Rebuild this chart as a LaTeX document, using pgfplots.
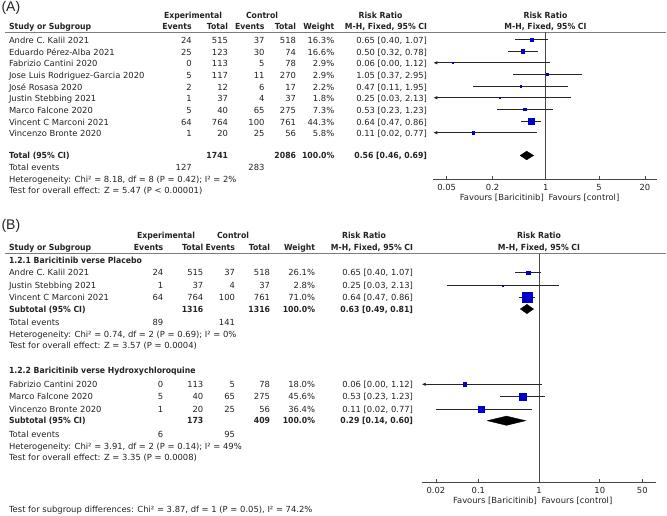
\documentclass[border=0pt]{standalone}
\usepackage{pgfplots}
\pgfplotsset{compat=1.18}
\usepackage{fontspec}
\setmainfont{DejaVu Sans}[BoldFeatures={FakeStretch=0.92}]
\newfontfamily\panelfont{Liberation Sans}
\usetikzlibrary{arrows.meta}
\definecolor{sqblue}{RGB}{0,0,200}
\definecolor{txt}{RGB}{35,35,35}
\definecolor{rulec}{RGB}{125,125,125}
\definecolor{vl}{RGB}{70,70,70}

\newcommand\fs{\fontsize{8.4bp}{10bp}\selectfont}
\newcommand\tL[3]{\node[anchor=base west] at (#1,#2) {#3};}
\newcommand\tR[3]{\node[anchor=base east] at (#1,#2) {#3};}
\newcommand\tC[3]{\node[anchor=base] at (#1,#2) {#3};}
\newcommand\rowA[8]{\tL{9}{#1}{#2}\tR{191.7}{#1}{#3}\tR{228}{#1}{#4}\tR{264.5}{#1}{#5}\tR{296}{#1}{#6}\tR{334.3}{#1}{#7}\tR{427}{#1}{#8}}
\newcommand\rowB[8]{\tL{9}{#1}{#2}\tR{163.3}{#1}{#3}\tR{203.3}{#1}{#4}\tR{235}{#1}{#5}\tR{270}{#1}{#6}\tR{315}{#1}{#7}\tR{413}{#1}{#8}}
\tikzset{cil/.style={draw=black!85, line width=0.75bp}, arr/.style={cil, -{Latex[length=4bp, width=3.5bp]}}}
% study square: risk ratio, row, half side
\newcommand\sq[3]{\addplot[only marks, mark=square*, sqblue, mark size=#3] coordinates {(#1,#2)};}

\begin{document}
\begin{tikzpicture}[every node/.style={inner sep=0pt, outer sep=0pt, text=txt}, font=\fs]
\begin{scope}[x=1bp, y=-1bp]
\useasboundingbox (0,0) rectangle (667,516);

% ---------------- Panel A ----------------
\node[anchor=base west, font=\panelfont\fontsize{14bp}{16bp}\selectfont] at (1.5,12) {(A)};
\begin{scope}[font=\fs\bfseries]
\tC{193}{18.1}{Experimental}\tC{262}{18.1}{Control}\tC{380.5}{18.1}{Risk Ratio}\tC{545.5}{18.1}{Risk Ratio}
\tL{9}{29.8}{Study or Subgroup}\tR{191.7}{29.8}{Events}\tR{228}{29.8}{Total}\tR{264.5}{29.8}{Events}\tR{296}{29.8}{Total}\tR{334.3}{29.8}{Weight}
\tR{427}{29.8}{M-H, Fixed, 95\% CI}\tC{545.5}{29.8}{M-H, Fixed, 95\% CI}
\end{scope}
\draw[rulec, line width=0.9bp] (5,32.5) -- (666,32.5);
\rowA{43.6}{Andre C. Kalil 2021}{24}{515}{37}{518}{16.3\%}{0.65 [0.40, 1.07]}
\rowA{55.25}{Eduardo Pérez-Alba 2021}{25}{123}{30}{74}{16.6\%}{0.50 [0.32, 0.78]}
\rowA{66.9}{Fabrizio Cantini 2020}{0}{113}{5}{78}{2.9\%}{0.06 [0.00, 1.12]}
\rowA{78.55}{Jose Luis Rodriguez-Garcia 2020}{5}{117}{11}{270}{2.9\%}{1.05 [0.37, 2.95]}
\rowA{90.2}{José Rosasa 2020}{2}{12}{6}{17}{2.2\%}{0.47 [0.11, 1.95]}
\rowA{101.85}{Justin Stebbing 2021}{1}{37}{4}{37}{1.8\%}{0.25 [0.03, 2.13]}
\rowA{113.5}{Marco Falcone 2020}{5}{40}{65}{275}{7.3\%}{0.53 [0.23, 1.23]}
\rowA{125.15}{Vincent C Marconi 2021}{64}{764}{100}{761}{44.3\%}{0.64 [0.47, 0.86]}
\rowA{136.8}{Vincenzo Bronte 2020}{1}{20}{25}{56}{5.8\%}{0.11 [0.02, 0.77]}
\begin{scope}[font=\fs\bfseries]
\tL{9}{158.6}{Total (95\% CI)}\tR{228}{158.6}{1741}\tR{296}{158.6}{2086}\tR{334.3}{158.6}{100.0\%}\tR{427}{158.6}{0.56 [0.46, 0.69]}
\end{scope}
\tL{9}{170.6}{Total events}\tR{191.7}{170.6}{127}\tR{264.5}{170.6}{283}
\tL{9}{182.1}{Heterogeneity: Chi² = 8.18, df = 8 (P = 0.42); I² = 2\%}
\tL{9}{193.6}{Test for overall effect: Z = 5.47 (P < 0.00001)}
\tR{543.8}{200.4}{Favours [Baricitinib]}\tL{548.5}{200.4}{Favours [control]}

% ---------------- Panel B ----------------
\node[anchor=base west, font=\panelfont\fontsize{14bp}{16bp}\selectfont] at (1.5,230) {(B)};
\begin{scope}[font=\fs\bfseries]
\tC{166}{238.1}{Experimental}\tC{233}{238.1}{Control}\tC{364}{238.1}{Risk Ratio}\tC{539}{238.1}{Risk Ratio}
\tL{9}{250.1}{Study or Subgroup}\tR{163.3}{250.1}{Events}\tR{203.3}{250.1}{Total}\tR{235}{250.1}{Events}\tR{270}{250.1}{Total}\tR{315}{250.1}{Weight}
\tR{413}{250.1}{M-H, Fixed, 95\% CI}\tC{539}{250.1}{M-H, Fixed, 95\% CI}
\tL{9}{263.1}{1.2.1 Baricitinib verse Placebo}
\end{scope}
\draw[rulec, line width=0.9bp] (5,253.5) -- (666,253.5);
\rowB{275.8}{Andre C. Kalil 2021}{24}{515}{37}{518}{26.1\%}{0.65 [0.40, 1.07]}
\rowB{288.6}{Justin Stebbing 2021}{1}{37}{4}{37}{2.8\%}{0.25 [0.03, 2.13]}
\rowB{300.6}{Vincent C Marconi 2021}{64}{764}{100}{761}{71.0\%}{0.64 [0.47, 0.86]}
\begin{scope}[font=\fs\bfseries]
\tL{9}{312.1}{Subtotal (95\% CI)}\tR{203.3}{312.1}{1316}\tR{270}{312.1}{1316}\tR{315}{312.1}{100.0\%}\tR{413}{312.1}{0.63 [0.49, 0.81]}
\end{scope}
\tL{9}{325.1}{Total events}\tR{163.3}{325.1}{89}\tR{235}{325.1}{141}
\tL{9}{337.1}{Heterogeneity: Chi² = 0.74, df = 2 (P = 0.69); I² = 0\%}
\tL{9}{348.8}{Test for overall effect: Z = 3.57 (P = 0.0004)}
\begin{scope}[font=\fs\bfseries]
\tL{9}{373.6}{1.2.2 Baricitinib verse Hydroxychloroquine}
\end{scope}
\rowB{387.4}{Fabrizio Cantini 2020}{0}{113}{5}{78}{18.0\%}{0.06 [0.00, 1.12]}
\rowB{399.8}{Marco Falcone 2020}{5}{40}{65}{275}{45.6\%}{0.53 [0.23, 1.23]}
\rowB{412.4}{Vincenzo Bronte 2020}{1}{20}{25}{56}{36.4\%}{0.11 [0.02, 0.77]}
\begin{scope}[font=\fs\bfseries]
\tL{9}{423.8}{Subtotal (95\% CI)}\tR{203.3}{423.8}{173}\tR{270}{423.8}{409}\tR{315}{423.8}{100.0\%}\tR{413}{423.8}{0.29 [0.14, 0.60]}
\end{scope}
\tL{9}{437.6}{Total events}\tR{163.3}{437.6}{6}\tR{235}{437.6}{95}
\tL{9}{449.1}{Heterogeneity: Chi² = 3.91, df = 2 (P = 0.14); I² = 49\%}
\tL{9}{460.6}{Test for overall effect: Z = 3.35 (P = 0.0008)}
\tL{9}{512.1}{Test for subgroup differences: Chi² = 3.87, df = 1 (P = 0.05), I² = 74.2\%}
\tR{537}{503.1}{Favours [Baricitinib]}\tL{541.5}{503.1}{Favours [control]}
\end{scope}

\begin{axis}[at={(433.3bp,-179.3bp)}, anchor=south west, scale only axis, width=223.4bp, height=146.8bp,
  xmode=log, xmin=0.0334, xmax=28.5, ymin=-179.3, ymax=-32.5,
  axis x line*=bottom, axis y line=none, clip=false,
  tick align=inside, major tick length=3.5bp, minor tick length=0pt,
  tick style={draw=vl, line width=0.7bp}, axis line style={draw=vl, line width=0.8bp},
  xticklabel style={anchor=base, yshift=-11bp, font=\fs, text=txt, inner sep=0pt},
  xtick={0.05,0.2,1,5,20}, xticklabels={0.05,0.2,1,5,20}]
\addplot[draw=vl, line width=0.8bp] coordinates {(1,-32.5) (1,-179.3)};
\addplot[cil] coordinates {(0.40,-39.5) (1.07,-39.5)};
\addplot[cil] coordinates {(0.32,-51.15) (0.78,-51.15)};
\addplot[arr] coordinates {(1.12,-62.8) (0.0334,-62.8)};
\addplot[cil] coordinates {(0.37,-74.45) (2.95,-74.45)};
\addplot[cil] coordinates {(0.11,-86.1) (1.95,-86.1)};
\addplot[arr] coordinates {(2.13,-97.75) (0.0334,-97.75)};
\addplot[cil] coordinates {(0.23,-109.4) (1.23,-109.4)};
\addplot[cil] coordinates {(0.47,-121.05) (0.86,-121.05)};
\addplot[arr] coordinates {(0.77,-132.7) (0.0334,-132.7)};
\sq{0.65}{-39.5}{1.7}
\sq{0.50}{-51.15}{1.7}
\sq{0.06}{-62.8}{0.8}
\sq{1.05}{-74.45}{0.8}
\sq{0.47}{-86.1}{0.75}
\sq{0.25}{-97.75}{0.65}
\sq{0.53}{-109.4}{1.2}
\sq{0.64}{-121.05}{3.0}
\sq{0.11}{-132.7}{1.05}
\addplot[draw=black, fill=black] coordinates {(0.46,-155.5) (0.56,-151.2) (0.69,-155.5) (0.56,-159.8) (0.46,-155.5)};
\end{axis}

\begin{axis}[at={(421.7bp,-482.3bp)}, anchor=south west, scale only axis, width=234.3bp, height=228.8bp,
  xmode=log, xmin=0.01164, xmax=84.3, ymin=-482.3, ymax=-253.5,
  axis x line*=bottom, axis y line=none, clip=false,
  tick align=inside, major tick length=3.5bp, minor tick length=0pt,
  tick style={draw=vl, line width=0.7bp}, axis line style={draw=vl, line width=0.8bp},
  xticklabel style={anchor=base, yshift=-11bp, font=\fs, text=txt, inner sep=0pt},
  xtick={0.02,0.1,1,10,50}, xticklabels={0.02,0.1,1,10,50}]
\addplot[draw=vl, line width=0.8bp] coordinates {(1,-253.5) (1,-482.3)};
\addplot[cil] coordinates {(0.40,-272.7) (1.07,-272.7)};
\addplot[cil] coordinates {(0.03,-285.5) (2.13,-285.5)};
\addplot[cil] coordinates {(0.47,-297.5) (0.86,-297.5)};
\addplot[arr] coordinates {(1.12,-384.3) (0.01164,-384.3)};
\addplot[cil] coordinates {(0.23,-396.7) (1.23,-396.7)};
\addplot[cil] coordinates {(0.02,-409.3) (0.77,-409.3)};
\sq{0.65}{-272.7}{2.0}
\sq{0.25}{-285.5}{0.75}
\sq{0.64}{-297.5}{5.0}
\sq{0.06}{-384.3}{1.75}
\sq{0.53}{-396.7}{3.5}
\sq{0.11}{-409.3}{3.0}
\addplot[draw=black, fill=black] coordinates {(0.49,-309) (0.63,-304.4) (0.81,-309) (0.63,-313.6) (0.49,-309)};
\addplot[draw=black, fill=black] coordinates {(0.14,-420.7) (0.29,-416.1) (0.60,-420.7) (0.29,-425.3) (0.14,-420.7)};
\end{axis}
\end{tikzpicture}
\end{document}
